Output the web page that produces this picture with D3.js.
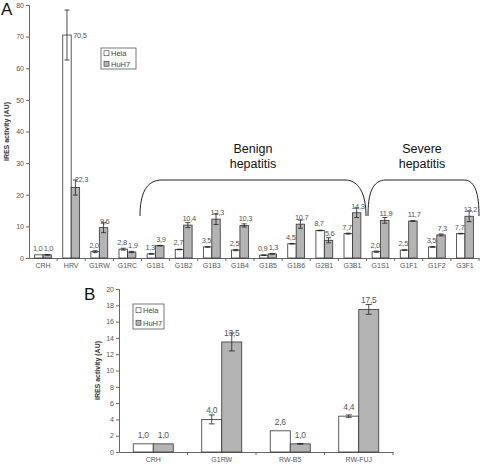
<!DOCTYPE html>
<html><head><meta charset="utf-8">
<script src="https://cdn.jsdelivr.net/npm/d3@7"></script>
<style>body{margin:0;background:#fff}svg{display:block;font-family:"Liberation Sans",Arial,sans-serif}</style>
</head><body><svg id="c" width="480" height="464"></svg>
<script>
const catsA = ["CRH","HRV","G1RW","G1RC","G1B1","G1B2","G1B3","G1B4","G1B5","G1B6","G2B1","G3B1","G1S1","G1F1","G1F2","G3F1"];
const helaA = [1.0,70.5,2.0,2.8,1.3,2.7,3.5,2.5,0.9,4.5,8.7,7.7,2.0,2.5,3.5,7.7];
const huh7A = [1.0,22.3,9.6,1.9,3.9,10.4,12.3,10.3,1.3,10.7,5.6,14.3,11.9,11.7,7.3,13.2];
const helaErrA = [0,7.9,0.3,0.3,0.1,0.1,0.1,0.2,0.1,0.1,0.1,0.15,0.2,0.1,0.1,0.1];
const huh7ErrA = [0.1,2.4,1.6,0.2,0.1,0.8,1.7,0.5,0.1,1.3,0.8,1.5,0.9,0.1,0.3,1.7];
const ticksA = [0,10,20,30,40,50,60,70,80];

const catsB = ["CRH","G1RW","RW-B5","RW-FUJ"];
const helaB = [1.0,4.0,2.6,4.4];
const huh7B = [1.0,13.5,1.0,17.5];
const helaErrB = [0,0.55,0,0.15];
const huh7ErrB = [0,1.1,0.05,0.6];
const ticksB = [0,2,4,6,8,10,12,14,16,18,20];

const seriesNames = ["Hela","HuH7"];
const fills = ["#ffffff","#b4b4b4"];

const svg = d3.select("#c");
const fmt = v => d3.format(".1f")(v).replace(".", ",");

function panel(o){
  const g = svg.append("g");
  const x = d3.scaleBand().domain(o.cats).range([o.x0,o.x1]).paddingInner(o.pi).paddingOuter(o.pi/2);
  const xs = d3.scaleBand().domain([0,1]).range([0,x.bandwidth()]);
  const y = d3.scaleLinear().domain([0,o.ymax]).range([o.yb,o.yt]);
  const ya = g.append("g").attr("transform",`translate(${o.x0},0)`)
    .call(d3.axisLeft(y).tickValues(o.ticks).tickSize(3).tickPadding(2).tickFormat(d3.format("d")));
  ya.select(".domain").attr("stroke","#666");
  ya.selectAll(".tick line").attr("stroke","#666");
  ya.selectAll("text").attr("font-size",o.tfs).attr("fill","#555");
  const xa = g.append("g").attr("transform",`translate(0,${o.yb})`)
    .call(d3.axisBottom(x).tickSize(0).tickPadding(o.xpad));
  xa.select(".domain").attr("stroke","#666");
  xa.selectAll("text").attr("font-size",o.tfs).attr("fill","#555");
  const bounds = o.cats.map(c => x(c) + x.bandwidth() + x.step()*x.paddingInner()/2);
  g.selectAll(".bt").data(bounds).join("line").attr("x1",d=>d).attr("x2",d=>d)
    .attr("y1",o.yb).attr("y2",o.yb+3).attr("stroke","#666");
  const series = [o.hela,o.huh7], errs = [o.helaErr,o.huh7Err];
  series.forEach((vals,s)=>{
    const data = vals.map((v,i)=>({c:o.cats[i],v,e:errs[s][i],s}));
    const gg = g.append("g");
    gg.selectAll("rect").data(data).join("rect")
      .attr("x",d=>x(d.c)+xs(s)).attr("width",xs.bandwidth())
      .attr("y",d=>y(d.v)).attr("height",d=>y(0)-y(d.v))
      .attr("fill",fills[s]).attr("stroke","#333").attr("stroke-width",0.8);
    const eg = gg.selectAll("g.err").data(data.filter(d=>d.e>0)).join("g");
    const cx = d=>x(d.c)+xs(s)+xs.bandwidth()/2;
    eg.append("line").attr("x1",cx).attr("x2",cx).attr("y1",d=>y(d.v+d.e)).attr("y2",d=>y(Math.max(0,d.v-d.e))).attr("stroke","#222").attr("stroke-width",0.8);
    eg.append("line").attr("x1",d=>cx(d)-o.cap).attr("x2",d=>cx(d)+o.cap).attr("y1",d=>y(d.v+d.e)).attr("y2",d=>y(d.v+d.e)).attr("stroke","#222").attr("stroke-width",0.8);
    eg.append("line").attr("x1",d=>cx(d)-o.cap).attr("x2",d=>cx(d)+o.cap).attr("y1",d=>y(Math.max(0,d.v-d.e))).attr("y2",d=>y(Math.max(0,d.v-d.e))).attr("stroke","#222").attr("stroke-width",0.8);
    gg.selectAll("text").data(data).join("text")
      .attr("x",d=> d.e>2 ? cx(d)+xs.bandwidth()/2+ (s===0?2:-5) : cx(d)+(s===0?-o.nud:o.nud))
      .attr("y",d=> d.e>2 ? y(d.v)+(s===0?3:-5) : y(d.v)-o.lab)
      .attr("text-anchor",d=>d.e>2?"start":"middle")
      .attr("letter-spacing",-0.3)
      .attr("font-size",o.vfs).attr("fill","#555").text(d=>fmt(d.v));
  });
  g.append("text").attr("transform",`translate(${o.ytx},${(o.yb+o.yt)/2}) rotate(-90)`)
    .attr("text-anchor","middle").attr("font-size",o.tfs).attr("font-weight","bold").attr("fill","#333")
    .text("IRES activity (AU)");
  const lg = g.append("g").attr("transform",`translate(${o.lx},${o.ly})`);
  lg.append("rect").attr("width",o.lw).attr("height",o.lh).attr("fill","#fff").attr("stroke","#555").attr("stroke-width",0.8);
  seriesNames.forEach((n,i)=>{
    const yy = o.lh*(i*2+1)/4;
    lg.append("rect").attr("x",3).attr("y",yy-2.5).attr("width",5).attr("height",5).attr("fill",fills[i]).attr("stroke","#333").attr("stroke-width",0.6);
    lg.append("text").attr("x",10).attr("y",yy+3).attr("font-size",o.tfs+0.5).attr("fill","#444").text(n);
  });
  g.append("text").attr("x",o.px).attr("y",o.py).attr("font-size",17).attr("fill","#111").text(o.letter);
  return {x,y};
}

panel({cats:catsA,hela:helaA,huh7:huh7A,helaErr:helaErrA,huh7Err:huh7ErrA,ticks:ticksA,ymax:80,
  x0:29,x1:479,yb:258,yt:5,pi:0.4,tfs:7,vfs:7.5,nud:1.2,xpad:5,cap:2.5,lab:4,ytx:9,
  lx:101,ly:48,lw:35,lh:21,letter:"A",px:1,py:15});
panel({cats:catsB,hela:helaB,huh7:huh7B,helaErr:helaErrB,huh7Err:huh7ErrB,ticks:ticksB,ymax:20,
  x0:119,x1:393,yb:452,yt:289,pi:0.416,tfs:7,vfs:8.5,nud:0,xpad:5,cap:3,lab:6,ytx:100,
  lx:133,ly:304,lw:31,lh:25,letter:"B",px:84,py:300});

const br = svg.append("g").attr("fill","none").attr("stroke","#222").attr("stroke-width",1);
br.append("path").attr("d","M140,216 C140,194 146,180 162,180 L345,180 C359,180 366,194 366,216");
br.append("path").attr("d","M368,216 C368,194 372,180 386,180 L464,180 C476,180 479,196 479,216");
const tg = svg.append("g").attr("font-size",12.5).attr("fill","#111").attr("text-anchor","middle");
tg.append("text").attr("x",253).attr("y",153).text("Benign");
tg.append("text").attr("x",253).attr("y",168).text("hepatitis");
tg.append("text").attr("x",422).attr("y",153).text("Severe");
tg.append("text").attr("x",422).attr("y",168).text("hepatitis");
</script></body></html>
